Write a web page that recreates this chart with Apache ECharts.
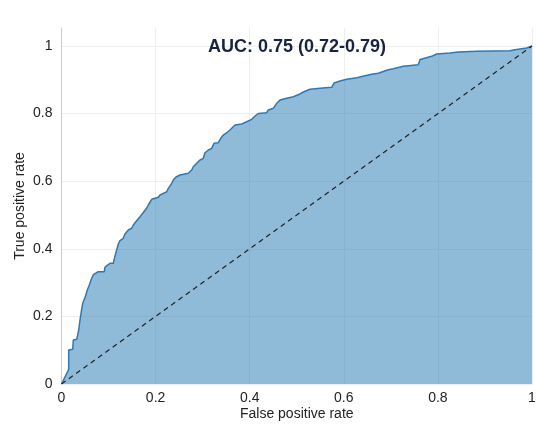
<!DOCTYPE html>
<html>
<head>
<meta charset="utf-8">
<script src="https://cdn.jsdelivr.net/npm/echarts@6/dist/echarts.min.js"></script>
<style>
  html, body { margin: 0; padding: 0; background: #fff; }
  #chart { width: 536px; height: 424px; }
</style>
</head>
<body>
<div id="chart"></div>
<script>
// ROC curve
var fpr = [0, 0.0153, 0.0153, 0.0238, 0.0251, 0.0323, 0.0366, 0.0393, 0.0421, 0.0451,
  0.0506, 0.0548, 0.0591, 0.0633, 0.0676, 0.0712, 0.0782, 0.0910, 0.0925, 0.1031,
  0.1101, 0.1137, 0.1173, 0.1207, 0.1243, 0.1313, 0.1350, 0.1420, 0.1492, 0.1526,
  0.1598, 0.1668, 0.1739, 0.1811, 0.1845, 0.1917, 0.1951, 0.2057, 0.2094, 0.2164,
  0.2236, 0.2270, 0.2342, 0.2376, 0.2434, 0.2519, 0.2695, 0.2767, 0.2801, 0.2874,
  0.2944, 0.3014, 0.3050, 0.3120, 0.3192, 0.3241, 0.3333, 0.3384, 0.3439, 0.3511,
  0.3581, 0.3639, 0.3688, 0.3830, 0.3936, 0.4043, 0.4113, 0.4183, 0.4361, 0.4395,
  0.4502, 0.4574, 0.4644, 0.4786, 0.4927, 0.5054, 0.5139, 0.5282, 0.5494, 0.5743,
  0.5792, 0.5919, 0.6062, 0.6274, 0.6451, 0.6593, 0.6733, 0.6946, 0.7052, 0.7265,
  0.7583, 0.7620, 0.7868, 0.7975, 0.8257, 0.8434, 0.8825, 0.9532, 0.9639, 0.9887, 1];
var tpr = [0, 0.0435, 0.1006, 0.1027, 0.1302, 0.1322, 0.1598, 0.1893, 0.2139, 0.2388,
  0.2583, 0.2781, 0.2929, 0.3098, 0.3234, 0.3284, 0.3322, 0.3322, 0.3462, 0.3571,
  0.3571, 0.3787, 0.3964, 0.4142, 0.4240, 0.4311, 0.4438, 0.4556, 0.4607, 0.4704,
  0.4831, 0.4950, 0.5074, 0.5207, 0.5296, 0.5464, 0.5494, 0.5524, 0.5592, 0.5642,
  0.5689, 0.5790, 0.5938, 0.6036, 0.6124, 0.6183, 0.6234, 0.6331, 0.6429, 0.6530,
  0.6627, 0.6678, 0.6843, 0.6923, 0.6973, 0.7121, 0.7139, 0.7269, 0.7367, 0.7435,
  0.7515, 0.7595, 0.7663, 0.7692, 0.7760, 0.7831, 0.7929, 0.8003, 0.8027, 0.8107,
  0.8157, 0.8305, 0.8402, 0.8453, 0.8500, 0.8571, 0.8639, 0.8719, 0.8749, 0.8778,
  0.8905, 0.8964, 0.9015, 0.9062, 0.9121, 0.9163, 0.9192, 0.9299, 0.9328, 0.9399,
  0.9447, 0.9601, 0.9695, 0.9763, 0.9793, 0.9822, 0.9843, 0.9861, 0.9891, 0.9941, 1];
var diagX = [0, 1];
var diagY = [0, 1];
var aucText = "AUC: 0.75 (0.72-0.79)";

var chart = echarts.init(document.getElementById("chart"));

var rocData = fpr.map(function (x, i) { return [x, tpr[i]]; });
var diagData = diagX.map(function (x, i) { return [x, diagY[i]]; });

var font = "'Liberation Sans', Arial, sans-serif";

var option = {
  animation: false,
  title: {
    text: aucText,
    left: 297,
    top: 38,
    padding: 0,
    textAlign: "center",
    textStyle: { fontFamily: font, fontSize: 18, fontWeight: "bold", color: "#172340" }
  },
  grid: { left: 61.5, right: 4, top: 28, bottom: 40, outerBoundsMode: "none" },
  xAxis: {
    type: "value",
    min: 0,
    max: 1,
    interval: 0.2,
    name: "False positive rate",
    nameLocation: "middle",
    nameGap: 23,
    nameMoveOverlap: false,
    nameTextStyle: { fontFamily: font, fontSize: 14, color: "#222" },
    axisLine: { show: false },
    axisTick: { show: false },
    axisLabel: { fontFamily: font, fontSize: 14, color: "#222", margin: 7 },
    splitLine: { show: true, lineStyle: { color: "#eeeeee", width: 1 } }
  },
  yAxis: {
    type: "value",
    min: 0,
    max: 1.0533,
    interval: 0.2,
    name: "True positive rate",
    nameLocation: "middle",
    nameGap: 34,
    nameMoveOverlap: false,
    nameTextStyle: { fontFamily: font, fontSize: 14, color: "#222" },
    axisLine: { show: true, lineStyle: { color: "#cccccc", width: 1 } },
    axisTick: { show: false },
    axisLabel: { fontFamily: font, fontSize: 14, color: "#222", margin: 9, showMaxLabel: false },
    splitLine: { show: true, showMaxLine: false, lineStyle: { color: "#eeeeee", width: 1 } }
  },
  series: [
    {
      type: "line",
      data: rocData,
      showSymbol: false,
      lineStyle: { color: "#2a7ab8", width: 1.5 },
      areaStyle: { color: "#1f77b4", opacity: 0.5 },
      z: 2
    },
    {
      type: "line",
      data: diagData,
      showSymbol: false,
      lineStyle: { color: "#222", width: 1.2, type: [5, 4] },
      z: 3
    }
  ]
};

chart.setOption(option);
</script>
</body>
</html>
